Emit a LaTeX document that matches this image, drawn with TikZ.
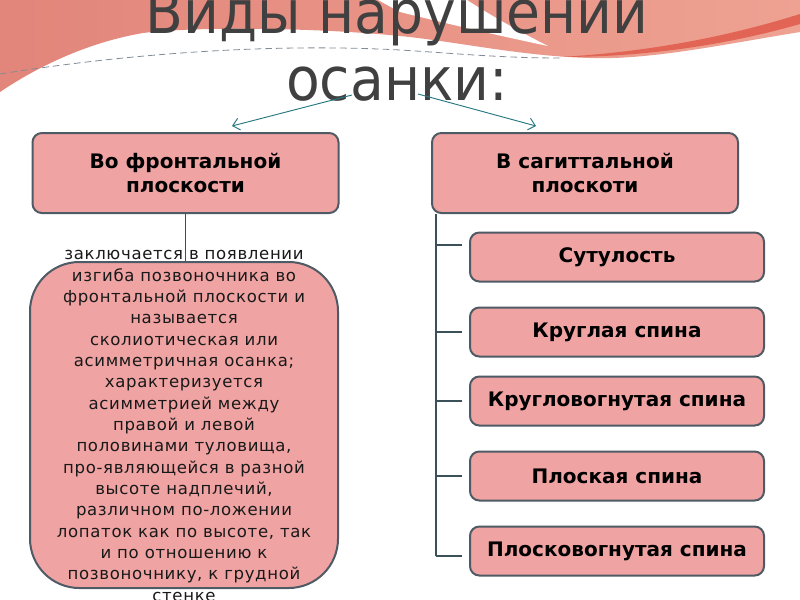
\documentclass[tikz,border=0pt]{standalone}
\usepackage{fontspec}
\setmainfont{DejaVu Sans}
\newfontfamily\titlefont[FakeStretch=0.92]{DejaVu Sans}
\newfontfamily\bodyfont[LetterSpace=4]{DejaVu Sans}
\usetikzlibrary{arrows.meta,calc}
\definecolor{boxfill}{RGB}{240,163,163}
\definecolor{boxline}{RGB}{78,90,100}
\definecolor{conn}{RGB}{60,80,90}
\definecolor{arrowc}{RGB}{40,120,130}
\definecolor{titlec}{RGB}{64,64,64}
\definecolor{salmonL}{RGB}{226,133,122}
\definecolor{salmonR}{RGB}{238,162,146}
\definecolor{streak}{RGB}{225,100,85}
\definecolor{dashc}{RGB}{130,140,150}
\begin{document}
\begin{tikzpicture}[x=0.75pt,y=-0.75pt,
 pinkbox/.style={draw=boxline, line width=1.5pt, fill=boxfill, rounded corners=7pt, inner sep=0pt, align=center, font=\bfseries\fontsize{15pt}{17.3pt}\selectfont, text=black},
 topbox/.style={pinkbox, minimum width=229.5pt, minimum height=60pt},
 typebox/.style={pinkbox, minimum width=220.5pt, minimum height=36.75pt},
 bigbox/.style={draw=boxline, line width=1.5pt, fill=boxfill, rounded corners=37pt, minimum width=231pt, minimum height=244.5pt, inner sep=0pt},
 bodytext/.style={align=center, inner sep=0pt, font=\bodyfont\fontsize{12.4pt}{16pt}\selectfont, text=black!90},
 titletext/.style={anchor=base, inner sep=0pt, font=\titlefont\fontsize{45pt}{50pt}\selectfont, text=titlec},
 connector/.style={draw=conn, line width=0.8pt},
 pointer/.style={draw=arrowc, line width=0.7pt, -{Straight Barb[length=5pt,width=9pt]}}
]
\useasboundingbox (0,0) rectangle (800,600);
\fill[white] (0,0) rectangle (800,600);
% background waves
\shade[left color=salmonL, right color=salmonR] (0,0) -- (800,0) -- (800,32)
  .. controls (720,45) and (650,60) .. (590,58)
  .. controls (520,56) and (460,42) .. (400,36)
  .. controls (320,28) and (200,26) .. (143,33)
  .. controls (90,42) and (40,65) .. (0,92) -- cycle;
\fill[white] (378,0) -- (467,0) .. controls (490,15) and (520,32) .. (548,46)
  .. controls (500,36) and (440,22) .. (400,12) -- cycle;
\fill[streak] (560,57) .. controls (650,52) and (730,36) .. (800,14) -- (800,24)
  .. controls (730,44) and (650,57) .. (560,57) -- cycle;
\draw[dashc, line width=0.6pt, dash pattern=on 5pt off 3pt] (0,74)
  .. controls (100,58) and (250,42) .. (400,50) .. controls (450,53) and (500,58) .. (560,58);
% title
\node[titletext] (t1) at (397,33) {Виды нарушений};
\node[titletext] (t2) at (397,100) {осанки:};
% arrows
\coordinate (a1s) at (352,95); \coordinate (a1e) at (232,126);
\coordinate (a2s) at (418,94); \coordinate (a2e) at (536,126);
\draw[pointer] (a1s) -- (a1e);
\draw[pointer] (a2s) -- (a2e);
% top boxes
\node[topbox] (lb) at (185.5,173) {Во фронтальной\\плоскости};
\node[topbox] (rb) at (585,173) {В сагиттальной\\плоскоти};
% left big box
\node[bigbox] (big) at (184,425) {};
\draw[connector] (lb.south) -- (lb.south |- big.north);
\node[bodytext] (bt) at (184,426) {заключается в появлении\\изгиба позвоночника во\\фронтальной плоскости и\\называется\\сколиотическая или\\асимметричная осанка;\\характеризуется\\асимметрией между\\правой и левой\\половинами туловища,\\про-являющейся в разной\\высоте надплечий,\\различном по-ложении\\лопаток как по высоте, так\\и по отношению к\\позвоночнику, к грудной\\стенке};
% right type boxes
\node[typebox] (s1) at (617,257) {Сутулость};
\node[typebox] (s2) at (617,332) {Круглая спина};
\node[typebox] (s3) at (617,401) {Кругловогнутая спина};
\node[typebox] (s4) at (617,476) {Плоская спина};
\node[typebox] (s5) at (617,551) {Плосковогнутая спина};
\coordinate (tt) at ($(rb.south west)+(5,0)$);
\draw[connector] (tt) -- ($(tt |- s5.west)+(0,5)$);
\foreach \n/\dy in {s1/-12, s2/0, s3/0, s4/0, s5/5}
  \draw[connector] ($(tt |- \n.west)+(0,\dy)$) -- ($(\n.west)+(-7,\dy)$);
\end{tikzpicture}
\end{document}
